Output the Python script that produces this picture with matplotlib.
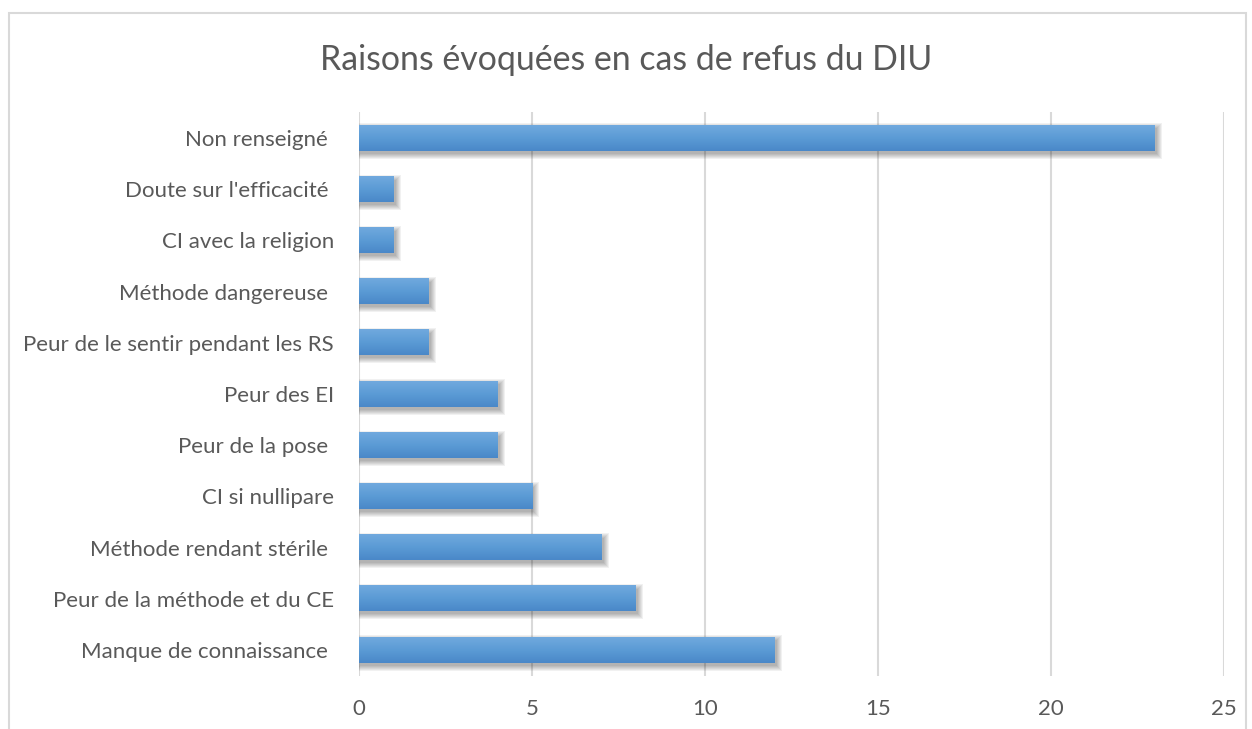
import numpy as np
import matplotlib.pyplot as plt
from matplotlib.patches import Rectangle

# Données
raisons = [
    "Manque de connaissance ",
    "Peur de la méthode et du CE",
    "Méthode rendant stérile ",
    "CI si nullipare",
    "Peur de la pose ",
    "Peur des EI",
    "Peur de le sentir pendant les RS",
    "Méthode dangereuse ",
    "CI avec la religion",
    "Doute sur l'efficacité ",
    "Non renseigné ",
]
effectifs = [12, 8, 7, 5, 4, 4, 2, 2, 1, 1, 23]
graduations = [0, 5, 10, 15, 20, 25]

gris = '#595959'
police = ['Lato', 'DejaVu Sans']
plt.rcParams['font.family'] = police

fig = plt.figure(figsize=(12.52, 7.29), dpi=100)
ax = fig.add_axes([0.2867, 0.0733, 0.6909, 0.7725])

# cadre du graphique
fig.patches.append(Rectangle((9 / 1252, -0.05), (1246 - 9) / 1252, 1.05 - 13 / 729,
                             transform=fig.transFigure, fill=False,
                             edgecolor='#D9D9D9', linewidth=1.5))

y = np.arange(len(raisons))
h = 0.49
px_x = 25 / 865.0   # un pixel en unités x
px_y = 11 / 563.0   # un pixel en unités y

# ombre floue (décalée vers le bas et la droite)
for yi, v in zip(y, effectifs):
    for k in range(6, 0, -1):
        g = k - 1
        ax.add_patch(Rectangle((1 * px_x - g * px_x, yi - h / 2 - 3 * px_y - g * px_y),
                               v + 1.5 * px_x + 2 * g * px_x, h + 2 * g * px_y,
                               color='black', alpha=0.055, linewidth=0, zorder=2))

# barres avec dégradé
grad = np.linspace(0, 1, 50).reshape(-1, 1)
cmap = plt.matplotlib.colors.LinearSegmentedColormap.from_list(
    'bleu', ['#4A88C8', '#5B9BD5', '#70A9DE'])
for yi, v in zip(y, effectifs):
    ax.imshow(grad, extent=(0, v, yi - h / 2, yi + h / 2), cmap=cmap, origin='lower',
              aspect='auto', zorder=3, interpolation='bilinear')

ax.set_xlim(0, 25)
ax.set_ylim(-0.5, len(raisons) - 0.5)
ax.set_yticks(y)
ax.set_yticklabels(raisons, fontsize=16, color=gris)
ax.set_xticks(graduations)
ax.set_xticklabels([str(g) for g in graduations], fontsize=16, color=gris)
ax.tick_params(length=0, pad=18, axis='y')
ax.tick_params(length=0, pad=17, axis='x')
ax.grid(axis='x', color='#D9D9D9', linewidth=1.5, zorder=0)
ax.set_axisbelow(True)
for s in ax.spines.values():
    s.set_visible(False)

fig.text(0.5, 1 - 60 / 729, "Raisons évoquées en cas de refus du DIU",
         ha='center', va='center', fontsize=24.4, color=gris)

fig.savefig('out.png', dpi=100)
